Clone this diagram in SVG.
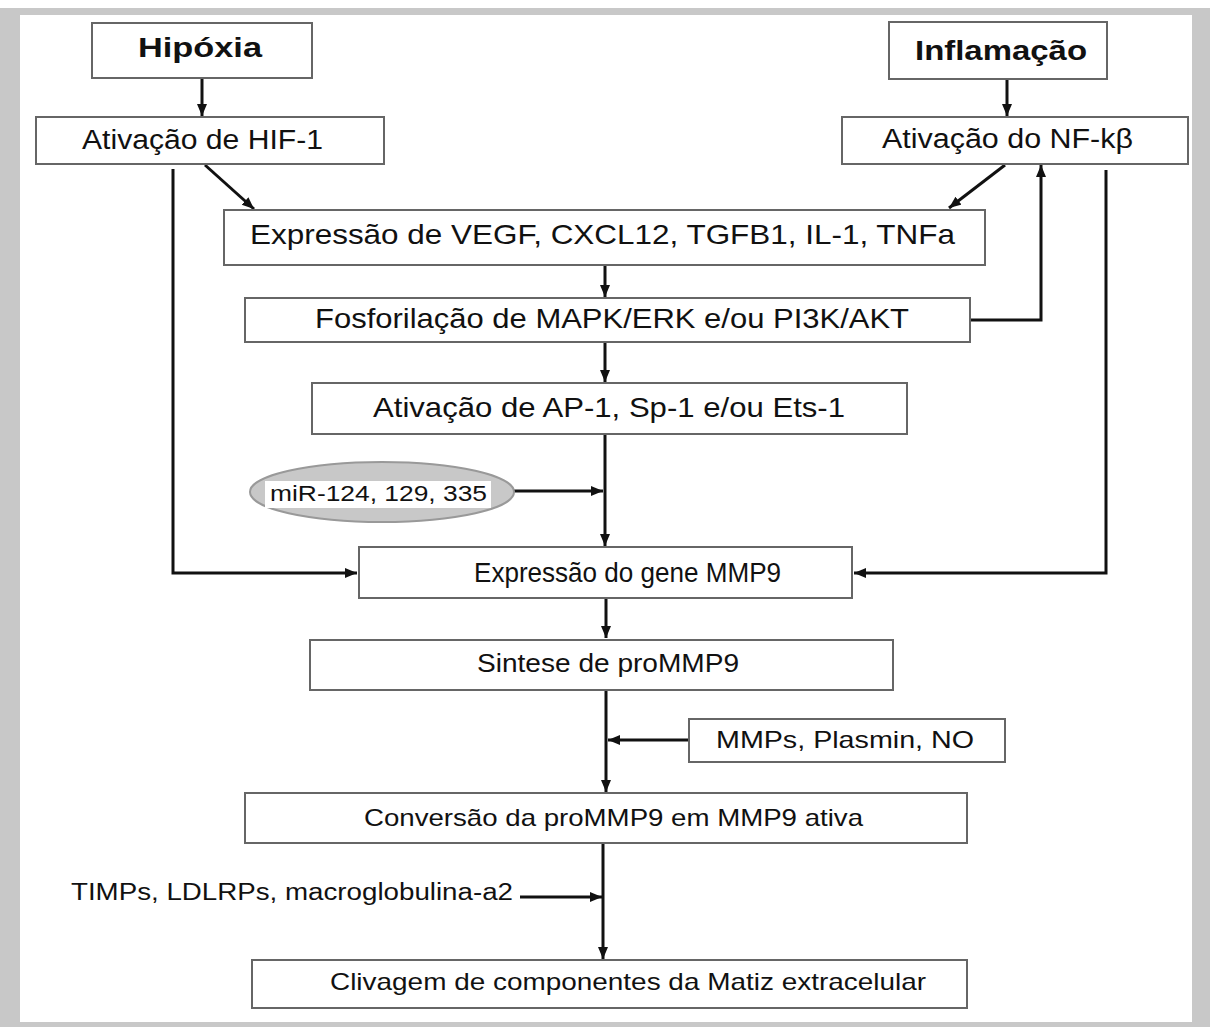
<svg xmlns="http://www.w3.org/2000/svg" width="1210" height="1027" viewBox="0 0 1210 1027">
<style>
.box{fill:#fff;stroke:#666;stroke-width:2}
.t{font-family:"Liberation Sans",Arial,sans-serif;fill:#111}
.b{font-weight:bold}
.c{fill:none;stroke:#111;stroke-width:3}
</style>
<defs>
<marker id="ah" markerUnits="userSpaceOnUse" markerWidth="14" markerHeight="14" refX="12" refY="5" orient="auto">
<path d="M0,0 L12,5 L0,10 z" fill="#111"/>
</marker>
</defs>
<rect x="0" y="0" width="1210" height="1027" fill="#fff"/>
<rect x="0" y="8" width="1210" height="1019" fill="#c8c8c8"/>
<rect x="20" y="15" width="1172" height="1007" fill="#fff"/>

<g id="connectors">
<line class="c" x1="202" y1="78" x2="202" y2="116" marker-end="url(#ah)"/>
<line class="c" x1="1007" y1="79" x2="1007" y2="116" marker-end="url(#ah)"/>
<line class="c" x1="205" y1="165" x2="254" y2="209" marker-end="url(#ah)"/>
<line class="c" x1="1005" y1="165" x2="949" y2="208" marker-end="url(#ah)"/>
<polyline class="c" points="173,169 173,573 357,573" marker-end="url(#ah)"/>
<polyline class="c" points="1106,170 1106,573 854,573" marker-end="url(#ah)"/>
<polyline class="c" points="970,320 1041,320 1041,165" marker-end="url(#ah)"/>
<line class="c" x1="605" y1="265" x2="605" y2="297" marker-end="url(#ah)"/>
<line class="c" x1="605" y1="342" x2="605" y2="382" marker-end="url(#ah)"/>
<line class="c" x1="605" y1="434" x2="605" y2="546" marker-end="url(#ah)"/>
<line class="c" x1="514" y1="491" x2="603" y2="491" marker-end="url(#ah)"/>
<line class="c" x1="606" y1="598" x2="606" y2="638" marker-end="url(#ah)"/>
<line class="c" x1="606" y1="690" x2="606" y2="792" marker-end="url(#ah)"/>
<line class="c" x1="689" y1="740" x2="608" y2="740" marker-end="url(#ah)"/>
<line class="c" x1="603" y1="843" x2="603" y2="959" marker-end="url(#ah)"/>
<line class="c" x1="520" y1="897" x2="602" y2="897" marker-end="url(#ah)"/>
</g>

<g id="hipoxia">
<rect class="box" x="92" y="23" width="220" height="55"/>
<text class="t b" x="138" y="57" font-size="27" textLength="124" lengthAdjust="spacingAndGlyphs">Hipóxia</text>
</g>
<g id="inflamacao">
<rect class="box" x="889" y="22" width="218" height="57"/>
<text class="t b" x="915" y="60" font-size="28" textLength="172" lengthAdjust="spacingAndGlyphs">Inflamação</text>
</g>
<g id="hif1">
<rect class="box" x="36" y="117" width="348" height="47"/>
<text class="t" x="82" y="149" font-size="27" textLength="241" lengthAdjust="spacingAndGlyphs">Ativação de HIF-1</text>
</g>
<g id="nfkb">
<rect class="box" x="842" y="117" width="346" height="47"/>
<text class="t" x="882" y="148" font-size="27" textLength="251" lengthAdjust="spacingAndGlyphs">Ativação do NF-kβ</text>
</g>
<g id="expressao">
<rect class="box" x="224" y="210" width="761" height="55"/>
<text class="t" x="250" y="244" font-size="28" textLength="705" lengthAdjust="spacingAndGlyphs">Expressão de VEGF, CXCL12, TGFB1, IL-1, TNFa</text>
</g>
<g id="fosforilacao">
<rect class="box" x="245" y="298" width="725" height="44"/>
<text class="t" x="315" y="328" font-size="28" textLength="594" lengthAdjust="spacingAndGlyphs">Fosforilação de MAPK/ERK e/ou PI3K/AKT</text>
</g>
<g id="ap1">
<rect class="box" x="312" y="383" width="595" height="51"/>
<text class="t" x="373" y="417" font-size="28" textLength="472" lengthAdjust="spacingAndGlyphs">Ativação de AP-1, Sp-1 e/ou Ets-1</text>
</g>
<g id="mir">
<ellipse cx="382" cy="492" rx="132" ry="30" fill="#c8c8c8" stroke="#999" stroke-width="2"/>
<rect x="265" y="481" width="226" height="27" fill="#fff"/>
<text class="t" x="270" y="501" font-size="22" textLength="217" lengthAdjust="spacingAndGlyphs">miR-124, 129, 335</text>
</g>
<g id="mmp9gene">
<rect class="box" x="359" y="547" width="493" height="51"/>
<text class="t" x="474" y="582" font-size="28" textLength="307" lengthAdjust="spacingAndGlyphs">Expressão do gene MMP9</text>
</g>
<g id="sintese">
<rect class="box" x="310" y="640" width="583" height="50"/>
<text class="t" x="477" y="672" font-size="26" textLength="262" lengthAdjust="spacingAndGlyphs">Sintese de proMMP9</text>
</g>
<g id="mmps">
<rect class="box" x="689" y="719" width="316" height="43"/>
<text class="t" x="716" y="748" font-size="24" textLength="258" lengthAdjust="spacingAndGlyphs">MMPs, Plasmin, NO</text>
</g>
<g id="conversao">
<rect class="box" x="245" y="793" width="722" height="50"/>
<text class="t" x="364" y="826" font-size="24" textLength="499" lengthAdjust="spacingAndGlyphs">Conversão da proMMP9 em MMP9 ativa</text>
</g>
<g id="timps">
<text class="t" x="71" y="900" font-size="23" textLength="442" lengthAdjust="spacingAndGlyphs">TIMPs, LDLRPs, macroglobulina-a2</text>
</g>
<g id="clivagem">
<rect class="box" x="252" y="960" width="715" height="48"/>
<text class="t" x="330" y="990" font-size="24" textLength="596" lengthAdjust="spacingAndGlyphs">Clivagem de componentes da Matiz extracelular</text>
</g>
</svg>
